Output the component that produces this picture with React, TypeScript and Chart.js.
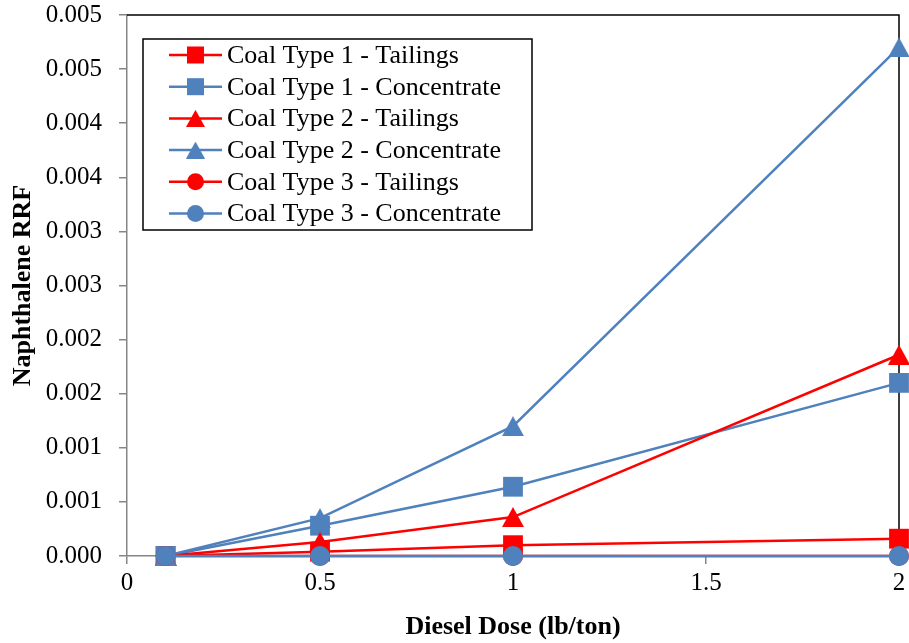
import React, { useEffect, useRef } from 'react';
import { Chart, registerables } from 'chart.js';

Chart.register(...registerables);

const xValues = [0.1, 0.5, 1, 2];
const coal1Tailings = [0, 0.00004, 0.0001, 0.00016];
const coal1Concentrate = [0, 0.00028, 0.00064, 0.0016];
const coal2Tailings = [0, 0.00013, 0.00036, 0.00186];
const coal2Concentrate = [0, 0.00035, 0.0012, 0.0047];
const coal3Tailings = [0, 0, 0, 0];
const coal3Concentrate = [0, 0, 0, 0];

const seriesNames = [
  'Coal Type 1 - Tailings',
  'Coal Type 1 - Concentrate',
  'Coal Type 2 - Tailings',
  'Coal Type 2 - Concentrate',
  'Coal Type 3 - Tailings',
  'Coal Type 3 - Concentrate',
];
const yTickLabels = ['0.000', '0.001', '0.001', '0.002', '0.002', '0.003', '0.003', '0.004', '0.004', '0.005', '0.005'];
const xTickLabels = ['0', '0.5', '1', '1.5', '2'];
const xTitle = 'Diesel Dose (lb/ton)';
const yTitle = 'Naphthalene RRF';

const RED = '#FF0000';
const BLUE = '#4F81BD';
const FONT = '"Liberation Serif", "Times New Roman", serif';

function makeTriangle(color: string, w: number, h: number) {
  const c = document.createElement('canvas');
  c.width = w;
  c.height = h;
  const ctx = c.getContext('2d')!;
  ctx.fillStyle = color;
  ctx.beginPath();
  ctx.moveTo(w / 2, 0);
  ctx.lineTo(w, h);
  ctx.lineTo(0, h);
  ctx.closePath();
  ctx.fill();
  return c;
}

export default function App() {
  const ref = useRef<HTMLCanvasElement | null>(null);

  useEffect(() => {
    document.body.style.margin = '0';
    const canvas = ref.current!;
    const triRed = makeTriangle(RED, 22, 20);
    const triBlue = makeTriangle(BLUE, 22, 20);
    const triRedS = makeTriangle(RED, 19, 17);
    const triBlueS = makeTriangle(BLUE, 19, 17);

    const seriesValues = [coal1Tailings, coal1Concentrate, coal2Tailings, coal2Concentrate, coal3Tailings, coal3Concentrate];
    const colors = [RED, BLUE, RED, BLUE, RED, BLUE];
    const styles: any[] = ['rect', 'rect', triRed, triBlue, 'circle', 'circle'];
    const radii = [14, 14, 11, 11, 10, 10];
    const legendStyles = ['rect', 'rect', 'tri', 'tri', 'circle', 'circle'];
    const legendTris = [null, null, triRedS, triBlueS, null, null];

    const datasets = seriesValues.map((vals, i) => ({
      label: seriesNames[i],
      data: xValues.map((x, j) => ({ x, y: vals[j] })),
      borderColor: colors[i],
      backgroundColor: colors[i],
      borderWidth: 2.5,
      pointStyle: styles[i],
      pointRadius: radii[i],
      pointBorderWidth: 0,
      pointBackgroundColor: colors[i],
      pointBorderColor: colors[i],
      tension: 0,
      clip: false as any,
      order: 6 - i,
    }));

    const framePlugin = {
      id: 'frame',
      beforeDatasetsDraw(chart: any) {
        const { ctx, chartArea } = chart;
        ctx.save();
        ctx.strokeStyle = '#000';
        ctx.lineWidth = 1.5;
        ctx.beginPath();
        ctx.moveTo(chartArea.left, chartArea.top);
        ctx.lineTo(chartArea.right, chartArea.top);
        ctx.lineTo(chartArea.right, chartArea.bottom);
        ctx.stroke();
        ctx.restore();
      },
    };

    const legendPlugin = {
      id: 'boxLegend',
      afterDraw(chart: any) {
        const { ctx, chartArea } = chart;
        const bx = chartArea.left + 16;
        const by = chartArea.top + 24;
        const bw = 389;
        const bh = 191;
        ctx.save();
        ctx.fillStyle = '#fff';
        ctx.fillRect(bx, by, bw, bh);
        ctx.strokeStyle = '#000';
        ctx.lineWidth = 1.5;
        ctx.strokeRect(bx, by, bw, bh);
        ctx.font = `26px ${FONT}`;
        ctx.textBaseline = 'middle';
        ctx.textAlign = 'left';
        for (let i = 0; i < seriesNames.length; i++) {
          const cy = by + 16 + i * 31.7;
          const lx0 = bx + 26;
          const lx1 = bx + 79;
          const mx = (lx0 + lx1) / 2;
          ctx.strokeStyle = colors[i];
          ctx.lineWidth = 2.5;
          ctx.beginPath();
          ctx.moveTo(lx0, cy);
          ctx.lineTo(lx1, cy);
          ctx.stroke();
          ctx.fillStyle = colors[i];
          if (legendStyles[i] === 'rect') {
            ctx.fillRect(mx - 8.5, cy - 8.5, 17, 17);
          } else if (legendStyles[i] === 'circle') {
            ctx.beginPath();
            ctx.arc(mx, cy, 8.5, 0, Math.PI * 2);
            ctx.fill();
          } else {
            const t = legendTris[i]!;
            ctx.drawImage(t, mx - t.width / 2, cy - t.height / 2);
          }
          ctx.fillStyle = '#000';
          ctx.fillText(seriesNames[i], bx + 84, cy + 1);
        }
        ctx.restore();
      },
    };

    const chart = new Chart(canvas, {
      type: 'line',
      data: { datasets: datasets as any },
      options: {
        animation: false,
        responsive: false,
        maintainAspectRatio: false,
        devicePixelRatio: 1,
        layout: { autoPadding: false, padding: { left: 0, right: 10, top: 15, bottom: 0 } },
        plugins: { legend: { display: false }, tooltip: { enabled: false } },
        scales: {
          x: {
            type: 'linear',
            min: 0,
            max: 2,
            ticks: {
              stepSize: 0.5,
              color: '#000',
              font: { family: FONT, size: 25 },
              padding: 4,
              callback: (_v: any, i: number) => xTickLabels[i],
            },
            grid: { display: true, drawOnChartArea: false, drawTicks: true, tickLength: 8, color: '#868686', lineWidth: 1.5 },
            border: { color: '#868686', width: 1.5 },
            title: { display: true, text: xTitle, color: '#000', font: { family: FONT, size: 26, weight: 'bold' }, padding: 0 },
            afterFit: (s: any) => { s.height = 87; s.paddingLeft = 0; s.paddingRight = 0; },
          },
          y: {
            type: 'linear',
            min: 0,
            max: 0.005,
            ticks: {
              stepSize: 0.0005,
              color: '#000',
              font: { family: FONT, size: 25 },
              padding: 17,
              callback: (_v: any, i: number) => yTickLabels[i],
            },
            grid: { display: true, drawOnChartArea: false, drawTicks: true, tickLength: 8, color: '#868686', lineWidth: 1.5 },
            border: { color: '#868686', width: 1.5 },
            title: { display: true, text: yTitle, color: '#000', font: { family: FONT, size: 26, weight: 'bold' }, padding: { top: 8, bottom: 0 } },
            afterFit: (s: any) => { s.width = 127; s.paddingTop = 0; s.paddingBottom = 0; },
          },
        },
      } as any,
      plugins: [framePlugin, legendPlugin],
    });
    return () => chart.destroy();
  }, []);

  return (
    <div style={{ width: 909, height: 643 }}>
      <canvas ref={ref} width={909} height={643} style={{ display: 'block' }} />
    </div>
  );
}
